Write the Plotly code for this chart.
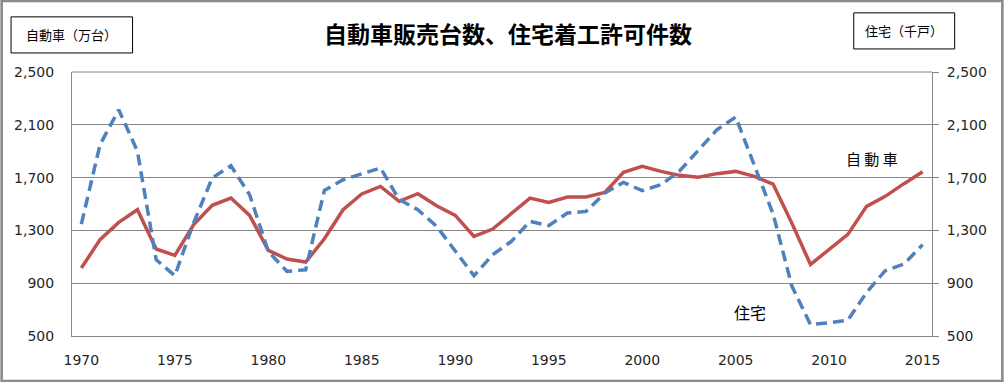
import plotly.graph_objects as go

years = list(range(1970, 2016))
cars = [1015, 1230, 1361, 1457, 1159, 1111, 1343, 1490, 1545, 1414,
        1149, 1083, 1060, 1237, 1457, 1576, 1633, 1520, 1578, 1487,
        1414, 1255, 1310, 1427, 1545, 1512, 1553, 1553, 1588, 1740,
        1785, 1747, 1717, 1702, 1730, 1747, 1709, 1651, 1356, 1042,
        1160, 1270, 1482, 1558, 1654, 1745]
housing = [1348, 1949, 2214, 1899, 1078, 957, 1356, 1697, 1790, 1570,
           1141, 990, 1002, 1603, 1684, 1730, 1773, 1533, 1457, 1331,
           1141, 957, 1116, 1217, 1369, 1336, 1432, 1444, 1583, 1664,
           1601, 1646, 1750, 1905, 2063, 2159, 1790, 1425, 880, 586,
           600, 620, 830, 995, 1045, 1192]
y_ticks = [500, 900, 1300, 1700, 2100, 2500]
x_ticks = [1970, 1975, 1980, 1985, 1990, 1995, 2000, 2005, 2010, 2015]

title = "自動車販売台数、住宅着工許可件数"
left_label = "自動車（万台）"
right_label = "住宅（千戸）"

W, H = 1004, 382
L, R, T, B = 71.7, 932.3, 72.3, 335.7
PW, PH = R - L, B - T

def px(x):
    return (x - L) / PW

def py(y):
    return (B - y) / PH

GRID = "#868686"
TXT = "#262626"
TICKFONT = dict(family="DejaVu Sans", size=14, color=TXT)
JP = "Noto Sans CJK JP"

fig = go.Figure()
fig.add_trace(go.Scatter(x=years, y=cars, mode="lines", name="自動車",
                         line=dict(color="#C0504D", width=3.5)))
fig.add_trace(go.Scatter(x=years, y=housing, mode="lines", name="住宅", yaxis="y2",
                         line=dict(color="#4F81BD", width=3.5, dash="11px,6px")))

fig.update_layout(
    width=W, height=H,
    margin=dict(l=L, r=W - R, t=T, b=H - B, pad=0),
    paper_bgcolor="white", plot_bgcolor="white",
    showlegend=False,
    xaxis=dict(range=[1969.5, 2015.5], tickvals=x_ticks, showgrid=False,
               showline=True, linecolor=GRID, linewidth=1, ticks="",
               tickfont=TICKFONT, ticklabelstandoff=11, zeroline=False),
    yaxis=dict(range=[500, 2500], tickvals=y_ticks, tickformat=",",
               showgrid=True, gridcolor=GRID, gridwidth=1,
               showline=True, linecolor=GRID, linewidth=1, ticks="",
               tickfont=TICKFONT, ticklabelstandoff=14, zeroline=False),
    yaxis2=dict(range=[500, 2500], tickvals=y_ticks, tickformat=",",
                overlaying="y", side="right", showgrid=False,
                showline=True, linecolor=GRID, linewidth=1,
                ticks="outside", ticklen=6, tickcolor=GRID,
                tickfont=TICKFONT, ticklabelstandoff=5, zeroline=False),
)

shapes = [
    dict(type="rect", xref="paper", yref="paper",
         x0=px(1.3), x1=px(W - 1.3), y0=py(H - 1.3), y1=py(1.3),
         line=dict(color="#8A8A8A", width=2.6), layer="below"),
    dict(type="rect", xref="paper", yref="paper",
         x0=px(10.7), x1=px(132.3), y0=py(53.3), y1=py(17.3),
         line=dict(color="black", width=1)),
    dict(type="rect", xref="paper", yref="paper",
         x0=px(854), x1=px(955), y0=py(49.3), y1=py(13.3),
         line=dict(color="black", width=1)),
    dict(type="line", xref="paper", yref="paper",
         x0=0, x1=1, y0=1, y1=1, line=dict(color=GRID, width=1)),
]

annotations = [
    dict(text=f"<b>{title}</b>", x=px(508), y=py(33), xref="paper", yref="paper",
         xanchor="center", yanchor="middle", showarrow=False,
         font=dict(family=JP, size=23, color="black")),
    dict(text=left_label, x=px(71.5), y=py(35.3), xref="paper", yref="paper",
         xanchor="center", yanchor="middle", showarrow=False,
         font=dict(family=JP, size=13, color="black")),
    dict(text=right_label, x=px(904.5), y=py(31.3), xref="paper", yref="paper",
         xanchor="center", yanchor="middle", showarrow=False,
         font=dict(family=JP, size=13, color="black")),
    dict(text="自 動 車", x=px(872), y=py(159), xref="paper", yref="paper",
         xanchor="center", yanchor="middle", showarrow=False,
         font=dict(family=JP, size=15, color="black")),
    dict(text="住宅", x=px(750), y=py(312), xref="paper", yref="paper",
         xanchor="center", yanchor="middle", showarrow=False,
         font=dict(family=JP, size=16, color="black")),
]

fig.update_layout(shapes=shapes, annotations=annotations)
fig.write_html("out.html", config={"displayModeBar": False},
               post_script="document.body.style.margin='0';document.body.style.overflow='hidden';")
